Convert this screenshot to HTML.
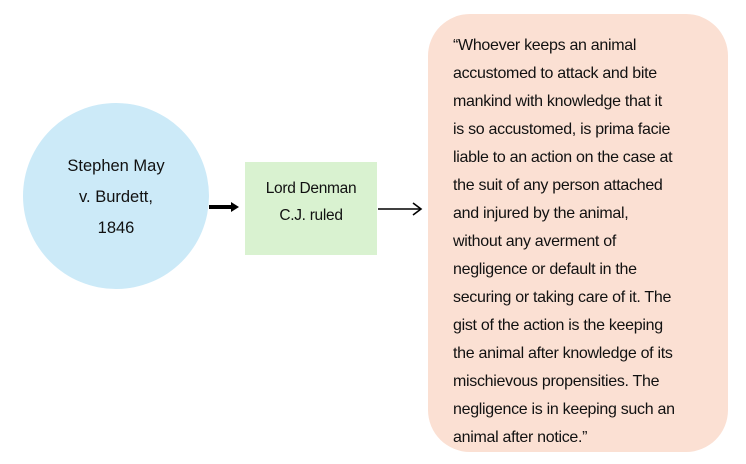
<!DOCTYPE html>
<html><head><style>
body{margin:0;width:746px;height:464px;background:#fff;position:relative;overflow:hidden;font-family:"Liberation Sans",sans-serif;color:#111}
.c{position:absolute;left:23px;top:103px;width:186px;height:186px;border-radius:50%;background:#cceaf8}
.ct{position:absolute;left:23px;width:186px;text-align:center;font-size:16.5px;line-height:31px;top:151px}
.g{position:absolute;left:245px;top:162px;width:132px;height:93px;background:#d9f2d0;text-align:center;font-size:15.5px;line-height:27px;box-sizing:border-box;padding-top:13px;letter-spacing:-0.3px}
.r{position:absolute;left:428px;top:14px;width:300px;height:438px;border-radius:42px;background:#fbe0d3}
.t{position:absolute;left:453px;top:32px;font-size:16px;line-height:28px;white-space:nowrap;letter-spacing:-0.3px}
</style></head><body>
<div class="c"></div>
<div class="ct">Stephen May<br>v. Burdett,<br>1846</div>
<div class="g">Lord Denman<br>C.J. ruled</div>
<svg width="746" height="464" style="position:absolute;left:0;top:0">
<line x1="209" y1="207" x2="232" y2="207" stroke="#000" stroke-width="4"/>
<polygon points="231,202 239,207 231,212" fill="#000"/>
<line x1="378" y1="209" x2="421" y2="209" stroke="#000" stroke-width="1.6"/>
<polyline points="413,203 421,209 413,215" fill="none" stroke="#000" stroke-width="1.6"/>
</svg>
<div class="r"></div>
<div class="t">“Whoever keeps an animal<br>accustomed to attack and bite<br>mankind with knowledge that it<br>is so accustomed, is prima facie<br>liable to an action on the case at<br>the suit of any person attached<br>and injured by the animal,<br>without any averment of<br>negligence or default in the<br>securing or taking care of it. The<br>gist of the action is the keeping<br>the animal after knowledge of its<br>mischievous propensities. The<br>negligence is in keeping such an<br>animal after notice.”</div>
</body></html>
